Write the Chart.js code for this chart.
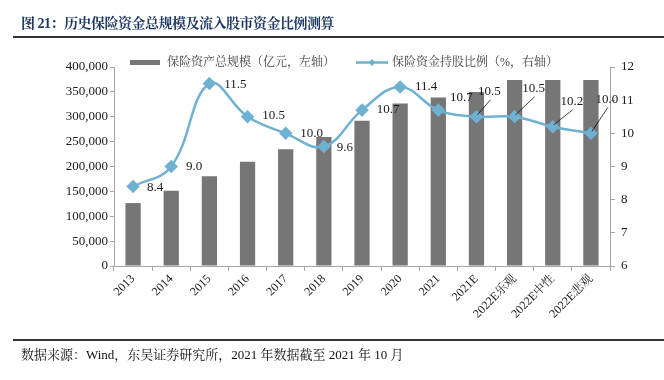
<!DOCTYPE html>
<html>
<head>
<meta charset="utf-8">
<script src="https://cdn.jsdelivr.net/npm/chart.js@4"></script>
<style>
  html, body { margin: 0; padding: 0; background: #fff; }
  #wrap { position: relative; width: 664px; height: 380px; overflow: hidden; }
  #c { position: absolute; left: 0; top: 0; }
  .title { position: absolute; left: 21px; top: 12px; font: bold 14px "Liberation Serif", "Noto Serif CJK SC", "Noto Sans CJK SC", serif; letter-spacing: -0.5px; color: #1f3864; white-space: nowrap; }
  .rule { position: absolute; left: 13px; width: 651px; height: 2px; background: #333; }
  .foot { position: absolute; left: 21px; top: 344px; font: 13px "Liberation Serif", "Noto Serif CJK SC", "Noto Sans CJK SC", serif; color: #111; white-space: nowrap; }
</style>
</head>
<body>
<div id="wrap">
  <canvas id="c" width="664" height="380"></canvas>
  <div class="title">图 21：历史保险资金总规模及流入股市资金比例测算</div>
  <div class="rule" style="top:36px"></div>
  <div class="rule" style="top:339px"></div>
  <div class="foot">数据来源：Wind，东吴证券研究所，2021 年数据截至 2021 年 10 月</div>
</div>
<script>
const categories = ["2013","2014","2015","2016","2017","2018","2019","2020","2021","2021E","2022E乐观","2022E中性","2022E悲观"];
const assetScale = [126500, 151500, 180500, 209500, 234500, 259500, 292000, 326500, 338500, 349500, 374000, 374000, 374000];
const stockRatio = [8.4, 9.0, 11.5, 10.5, 10.0, 9.6, 10.7, 11.4, 10.7, 10.5, 10.5, 10.2, 10.0];
const leftTicks = [0, 50000, 100000, 150000, 200000, 250000, 300000, 350000, 400000];
const rightTicks = [6, 7, 8, 9, 10, 11, 12];
const seriesNames = ["保险资产总规模（亿元，左轴）", "保险资金持股比例（%，右轴）"];

// label offsets relative to each point (style only) and whether a leader line is drawn
const labelOffsets = [[22,1],[23,0],[26,1],[26,-1],[26,0],[21,1],[26,-1],[26,0],[23,-13],[13,-25],[19,-28],[19,-25],[16,-34]];
const leaderFrom = 9;

const SERIF = '"Liberation Serif", "Noto Serif CJK SC", "Noto Sans CJK SC", serif';
const BAR_COLOR = '#767676';
const LINE_COLOR = '#6fb1d1';
const AXIS_COLOR = '#a6a6a6';

const fmt = v => v.toLocaleString('en-US');

const labelPlugin = {
  id: 'pointLabels',
  afterDatasetsDraw(chart) {
    const ctx = chart.ctx;
    const meta = chart.getDatasetMeta(1);
    ctx.save();
    ctx.font = '13px ' + SERIF;
    ctx.fillStyle = '#1a1a1a';
    ctx.textAlign = 'center';
    ctx.textBaseline = 'middle';
    meta.data.forEach((pt, i) => {
      const [dx, dy] = labelOffsets[i];
      const lx = pt.x + dx, ly = pt.y + dy;
      if (i >= leaderFrom) {
        ctx.beginPath();
        ctx.strokeStyle = '#111';
        ctx.lineWidth = 0.8;
        ctx.moveTo(pt.x + 1, pt.y - 2);
        ctx.lineTo(lx + 1, ly + 8);
        ctx.stroke();
      }
      ctx.fillText(stockRatio[i].toFixed(1), lx, ly);
    });
    ctx.restore();
  }
};

const legendPlugin = {
  id: 'customLegend',
  afterDraw(chart) {
    const ctx = chart.ctx;
    ctx.save();
    ctx.font = '12px ' + SERIF;
    ctx.textBaseline = 'middle';
    const y = 62.5;
    ctx.fillStyle = BAR_COLOR;
    ctx.fillRect(130, y - 2.5, 30, 5);
    ctx.fillStyle = '#404040';
    ctx.fillText(seriesNames[0], 167, y);
    ctx.strokeStyle = LINE_COLOR;
    ctx.lineWidth = 2.5;
    ctx.beginPath();
    ctx.moveTo(356, y); ctx.lineTo(388, y); ctx.stroke();
    ctx.fillStyle = LINE_COLOR;
    ctx.beginPath();
    ctx.moveTo(372, y - 3.5); ctx.lineTo(375.5, y); ctx.lineTo(372, y + 3.5); ctx.lineTo(368.5, y); ctx.closePath(); ctx.fill();
    ctx.fillStyle = '#404040';
    ctx.fillText(seriesNames[1], 392, y);
    ctx.restore();
  }
};

new Chart(document.getElementById('c'), {
  type: 'bar',
  data: {
    labels: categories,
    datasets: [
      {
        type: 'bar',
        label: seriesNames[0],
        data: assetScale,
        yAxisID: 'y',
        backgroundColor: BAR_COLOR,
        borderWidth: 0,
        categoryPercentage: 1,
        barPercentage: 0.4,
        order: 2
      },
      {
        type: 'line',
        label: seriesNames[1],
        data: stockRatio,
        yAxisID: 'y1',
        borderColor: LINE_COLOR,
        backgroundColor: LINE_COLOR,
        borderWidth: 2.5,
        tension: 0.4,
        pointStyle: 'rectRot',
        pointRadius: 5,
        pointBackgroundColor: LINE_COLOR,
        pointBorderColor: LINE_COLOR,
        order: 1
      }
    ]
  },
  options: {
    responsive: false,
    animation: false,
    events: [],
    layout: { padding: { top: 67, left: 0, right: 0, bottom: 0 } },
    plugins: { legend: { display: false }, tooltip: { enabled: false } },
    scales: {
      x: {
        offset: true,
        grid: { offset: true, drawOnChartArea: false, drawTicks: true, tickLength: 5, color: AXIS_COLOR },
        border: { color: AXIS_COLOR, width: 1 },
        ticks: { font: { family: SERIF, size: 12 }, color: '#1a1a1a', maxRotation: 45, minRotation: 45, autoSkip: false, padding: 1 },
        afterFit(s) { s.height = 114; }
      },
      y: {
        position: 'left',
        min: 0, max: 400000,
        afterBuildTicks(s) { s.ticks = leftTicks.map(v => ({ value: v })); },
        grid: { drawOnChartArea: false, drawTicks: true, tickLength: 4, color: AXIS_COLOR },
        border: { color: AXIS_COLOR, width: 1 },
        ticks: { font: { family: SERIF, size: 13 }, color: '#1a1a1a', padding: 2, callback: v => fmt(v) },
        afterFit(s) { s.width = 114; }
      },
      y1: {
        position: 'right',
        min: 6, max: 12,
        afterBuildTicks(s) { s.ticks = rightTicks.map(v => ({ value: v })); },
        grid: { drawOnChartArea: false, drawTicks: true, tickLength: 5, color: AXIS_COLOR },
        border: { color: AXIS_COLOR, width: 1 },
        ticks: { font: { family: SERIF, size: 13 }, color: '#1a1a1a', padding: 6 },
        afterFit(s) { s.width = 54; }
      }
    }
  },
  plugins: [labelPlugin, legendPlugin]
});
</script>
</body>
</html>
